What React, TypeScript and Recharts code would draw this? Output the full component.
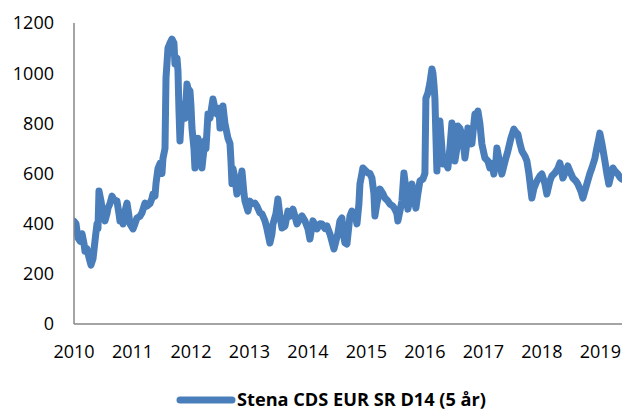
import React from "react";
import { LineChart, Line, XAxis, YAxis, Legend } from "recharts";

// decimal years
const years = [
  2010.0, 2010.034, 2010.068, 2010.103, 2010.137, 2010.171, 2010.188, 2010.222, 2010.256, 2010.291,
  2010.325, 2010.359, 2010.393, 2010.41, 2010.427, 2010.462, 2010.479, 2010.513, 2010.53, 2010.564,
  2010.581, 2010.615, 2010.65, 2010.684, 2010.735, 2010.769, 2010.786, 2010.821, 2010.838, 2010.872,
  2010.906, 2010.94, 2010.957, 2011.009, 2011.043, 2011.077, 2011.128, 2011.162, 2011.214, 2011.248,
  2011.299, 2011.333, 2011.35, 2011.385, 2011.402, 2011.436, 2011.47, 2011.504, 2011.521, 2011.556,
  2011.573, 2011.607, 2011.641, 2011.675, 2011.709, 2011.726, 2011.761, 2011.778, 2011.795, 2011.812,
  2011.829, 2011.863, 2011.897, 2011.932, 2011.949, 2011.983, 2012.0, 2012.017, 2012.051, 2012.068,
  2012.103, 2012.12, 2012.154, 2012.188, 2012.205, 2012.239, 2012.256, 2012.291, 2012.325, 2012.376,
  2012.41, 2012.444, 2012.479, 2012.496, 2012.53, 2012.547, 2012.581, 2012.632, 2012.667, 2012.684,
  2012.701, 2012.718, 2012.752, 2012.786, 2012.838, 2012.872, 2012.906, 2012.923, 2012.974, 2013.009,
  2013.043, 2013.094, 2013.128, 2013.179, 2013.214, 2013.265, 2013.299, 2013.35, 2013.385, 2013.402,
  2013.453, 2013.487, 2013.521, 2013.556, 2013.607, 2013.658, 2013.692, 2013.744, 2013.778, 2013.812,
  2013.863, 2013.897, 2013.949, 2014.0, 2014.034, 2014.085, 2014.12, 2014.154, 2014.205, 2014.239,
  2014.291, 2014.325, 2014.376, 2014.41, 2014.444, 2014.479, 2014.513, 2014.547, 2014.581, 2014.598,
  2014.632, 2014.667, 2014.718, 2014.752, 2014.803, 2014.838, 2014.872, 2014.889, 2014.923, 2014.94,
  2014.991, 2015.026, 2015.06, 2015.094, 2015.128, 2015.145, 2015.179, 2015.231, 2015.282, 2015.316,
  2015.368, 2015.402, 2015.453, 2015.487, 2015.521, 2015.538, 2015.573, 2015.607, 2015.641, 2015.675,
  2015.709, 2015.744, 2015.778, 2015.812, 2015.846, 2015.88, 2015.915, 2015.966, 2016.0, 2016.017,
  2016.051, 2016.085, 2016.12, 2016.137, 2016.154, 2016.171, 2016.188, 2016.205, 2016.222, 2016.256,
  2016.291, 2016.308, 2016.342, 2016.393, 2016.427, 2016.462, 2016.496, 2016.513, 2016.547, 2016.564,
  2016.598, 2016.632, 2016.667, 2016.684, 2016.718, 2016.735, 2016.769, 2016.803, 2016.838, 2016.855,
  2016.889, 2016.906, 2016.94, 2016.974, 2017.009, 2017.026, 2017.077, 2017.111, 2017.145, 2017.179,
  2017.214, 2017.231, 2017.265, 2017.316, 2017.35, 2017.385, 2017.419, 2017.47, 2017.521, 2017.556,
  2017.59, 2017.624, 2017.658, 2017.709, 2017.744, 2017.778, 2017.829, 2017.863, 2017.915, 2017.966,
  2018.0, 2018.051, 2018.085, 2018.137, 2018.171, 2018.222, 2018.274, 2018.308, 2018.359, 2018.41,
  2018.444, 2018.496, 2018.53, 2018.581, 2018.615, 2018.667, 2018.701, 2018.735, 2018.769, 2018.821,
  2018.855, 2018.906, 2018.94, 2018.974, 2018.991, 2019.026, 2019.077, 2019.111, 2019.145, 2019.179,
  2019.214, 2019.248, 2019.299, 2019.333, 2019.368,
];

// Stena CDS EUR SR D14 (5 år), basis points
const spreads = [
  410, 400, 343, 330, 360, 320, 290, 300, 265, 235,
  260, 331, 399, 380, 530, 490, 462, 430, 411, 440,
  462, 480, 510, 495, 490, 440, 411, 430, 399, 450,
  482, 430, 399, 379, 400, 423, 430, 443, 482, 470,
  480, 500, 518, 510, 560, 620, 640, 600, 660, 700,
  981, 1100, 1120, 1136, 1120, 1037, 1060, 1009, 850, 730,
  800, 877, 820, 957, 940, 929, 870, 781, 700, 622,
  680, 741, 700, 622, 660, 730, 700, 837, 820, 897,
  860, 837, 860, 781, 830, 869, 800, 741, 720, 650,
  560, 620, 582, 518, 560, 610, 520, 490, 450, 490,
  480, 482, 470, 443, 439, 411, 380, 323, 360, 399,
  440, 498, 430, 383, 390, 450, 430, 458, 430, 399,
  420, 431, 411, 380, 339, 411, 395, 379, 400, 399,
  380, 391, 359, 330, 299, 330, 363, 411, 423, 370,
  323, 319, 430, 450, 440, 399, 480, 558, 600, 622,
  610, 602, 600, 582, 520, 431, 480, 538, 520, 502,
  490, 478, 470, 458, 440, 411, 450, 490, 602, 540,
  458, 500, 558, 500, 462, 520, 570, 578, 600, 900,
  921, 960, 1017, 1000, 957, 900, 750, 610, 700, 809,
  700, 638, 650, 622, 700, 801, 700, 650, 700, 789,
  780, 757, 700, 662, 720, 781, 760, 718, 800, 837,
  840, 849, 800, 718, 680, 662, 650, 622, 640, 598,
  650, 702, 660, 598, 630, 662, 690, 740, 777, 765,
  757, 720, 690, 670, 650, 600, 502, 540, 570, 590,
  598, 560, 518, 570, 590, 602, 620, 642, 582, 610,
  630, 600, 582, 570, 558, 530, 502, 530, 558, 600,
  622, 660, 702, 740, 761, 720, 650, 600, 558, 590,
  622, 610, 598, 585, 578,
];

const yearTicks = [2010, 2011, 2012, 2013, 2014, 2015, 2016, 2017, 2018, 2019];
const valueTicks = [0, 200, 400, 600, 800, 1000, 1200];
const seriesName = "Stena CDS EUR SR D14 (5 år)";

const data = years.map((t, i) => ({ t, v: spreads[i] }));

const BLUE = "#4A7EBB";
const AXIS = "#868686";
const tickStyle = { fill: "#000", fontSize: 18, fontFamily: "'Open Sans', sans-serif" };

function LegendBox() {
  return (
    <svg width={625} height={48} style={{ display: "block" }}>
      <line x1={180} y1={36} x2={232} y2={36} stroke={BLUE} strokeWidth={7} strokeLinecap="round" />
      <text
        x={237}
        y={42}
        textLength={249}
        lengthAdjust="spacingAndGlyphs"
        style={{ fontFamily: "'Open Sans', sans-serif", fontWeight: 700, fontSize: 17, fill: "#000" }}
      >
        {seriesName}
      </text>
    </svg>
  );
}

export default function App() {
  return (
    <div style={{ position: "absolute", left: 0, top: 0, width: 625, height: 412, background: "#fff" }}>
      <LineChart width={625} height={412} data={data} margin={{ top: 23, right: 3, bottom: 0, left: 0 }}>
        <XAxis
          dataKey="t"
          type="number"
          domain={[2010, 2019.37]}
          ticks={yearTicks}
          allowDataOverflow
          height={40}
          tickLine={false}
          tickSize={0}
          tickMargin={21}
          axisLine={{ stroke: AXIS, strokeWidth: 1.5 }}
          tick={tickStyle}
          tickFormatter={(v: number) => String(Math.round(v))}
        />
        <YAxis
          domain={[0, 1200]}
          ticks={valueTicks}
          width={74}
          tickLine={false}
          tickSize={0}
          tickMargin={20}
          axisLine={{ stroke: AXIS, strokeWidth: 1.5 }}
          tick={tickStyle}
        />
        <Legend
          verticalAlign="bottom"
          content={() => <LegendBox />}
          wrapperStyle={{ left: 0, width: 625, height: 48 }}
        />
        <Line
          dataKey="v"
          name={seriesName}
          type="linear"
          stroke={BLUE}
          strokeWidth={7}
          strokeLinejoin="round"
          strokeLinecap="round"
          dot={false}
          isAnimationActive={false}
        />
      </LineChart>
    </div>
  );
}
